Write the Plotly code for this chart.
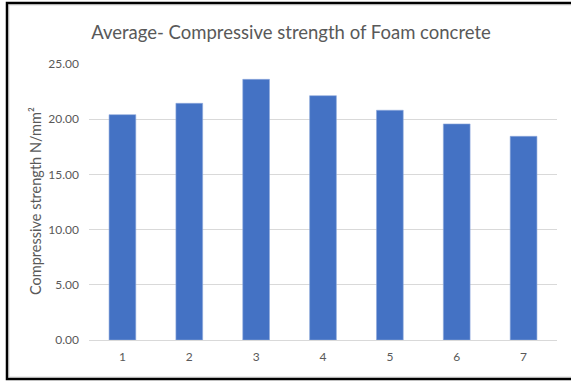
import plotly.graph_objects as go

# Average compressive strength per mix
mixes = ["1", "2", "3", "4", "5", "6", "7"]
strength = [20.41, 21.44, 23.61, 22.13, 20.81, 19.57, 18.45]
y_ticks = [0, 5, 10, 15, 20, 25]
y_tick_labels = ["0.00", "5.00", "10.00", "15.00", "20.00", "25.00"]

W, H = 571, 381
ML, MR, MT, MB = 89, 14, 64, 41
pw, ph = W - ML - MR, H - MT - MB

def px_x(px):
    return (px - ML) / pw

def px_y(py):
    return (H - MB - py) / ph

grey = "#595959"
font = "Lato, 'Open Sans', sans-serif"

fig = go.Figure(
    go.Bar(
        x=mixes,
        y=strength,
        marker=dict(color="#4472C4", line=dict(color="#8FAADC", width=0.6)),
        hoverinfo="x+y",
    )
)

fig.update_layout(
    width=W,
    height=H,
    margin=dict(l=ML, r=MR, t=MT, b=MB),
    paper_bgcolor="white",
    plot_bgcolor="white",
    bargap=0.6,
    showlegend=False,
    title=dict(
        text="Average- Compressive strength of Foam concrete",
        x=(291 / W),
        xanchor="center",
        y=1 - 33 / H,
        yanchor="middle",
        font=dict(family=font, size=18.5, color=grey),
    ),
    xaxis=dict(
        showgrid=False,
        showline=False,
        ticks="",
        tickfont=dict(family=font, size=12, color=grey),
        ticklabelstandoff=8,
    ),
    yaxis=dict(
        range=[0, 25],
        tickvals=y_ticks,
        ticktext=y_tick_labels,
        showgrid=True,
        gridcolor="#D9D9D9",
        gridwidth=1,
        zeroline=True,
        zerolinecolor="#D9D9D9",
        zerolinewidth=1,
        showline=False,
        ticks="",
        tickfont=dict(family=font, size=12, color=grey),
        ticklabelstandoff=9,
    ),
    annotations=[
        # vertical axis title
        dict(
            text="Compressive strength N/mm²",
            xref="paper", yref="paper",
            x=px_x(35), y=px_y(201),
            xanchor="center", yanchor="middle",
            textangle=-90, showarrow=False,
            font=dict(family=font, size=14.5, color=grey),
        )
    ],
    shapes=[
        # light inner frame of the chart area
        dict(type="rect", xref="paper", yref="paper",
             x0=px_x(9), x1=px_x(580), y0=px_y(377), y1=px_y(5),
             line=dict(color="#D9D9D9", width=1), fillcolor="rgba(0,0,0,0)", layer="below"),
        # dark outer frame
        dict(type="rect", xref="paper", yref="paper",
             x0=px_x(7), x1=px_x(585), y0=px_y(379), y1=px_y(3),
             line=dict(color="black", width=2.5), fillcolor="rgba(0,0,0,0)"),
    ],
)

fig.write_html("out.html")
